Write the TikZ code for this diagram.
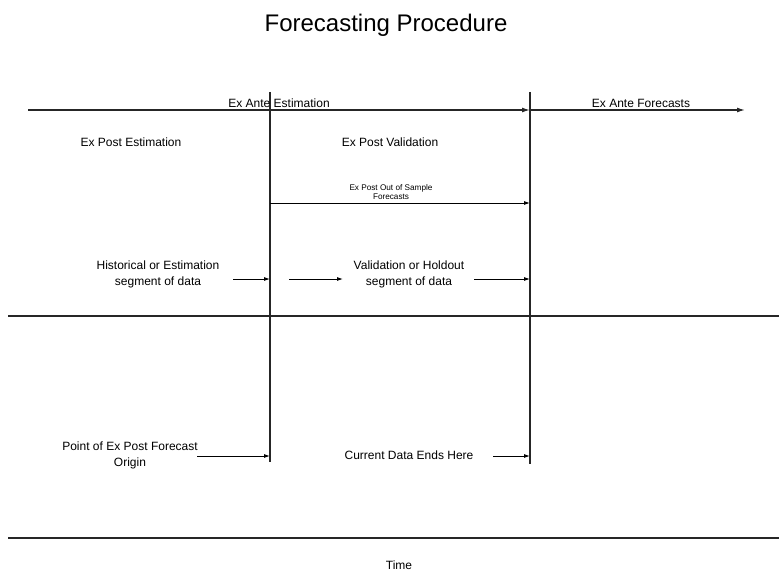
\documentclass[tikz,border=0pt]{standalone}
\usepackage{fontspec}
\setmainfont{Liberation Sans}
\usetikzlibrary{arrows.meta,positioning}

\begin{document}
\begin{tikzpicture}[x=1pt, y=-1pt,
  every node/.style={font=\fontsize{12}{16}\selectfont, align=center, inner sep=1pt},
  axis/.style={line width=1.3pt, black!85},
  tip/.style={-{Latex[length=8pt,width=5pt]}},
  smalltip/.style={-{Latex[length=6pt,width=4pt]}, line width=0.9pt}]
  \useasboundingbox (0,0) rectangle (779,572);
  \node (title) at (386,25) {\fontsize{24}{28}\selectfont Forecasting Procedure};
  % the two cuts in time
  \coordinate (v1t) at (270,92);
  \coordinate (v1b) at (270,462);
  \coordinate (v2t) at (530,92);
  \coordinate (v2b) at (530,464);
  \draw[axis] (v1t) -- (v1b);
  \draw[axis] (v2t) -- (v2b);
  % top time line
  \coordinate (start) at (28,110);
  \coordinate (finish) at (745,110);
  \draw[axis, tip] (start) -- (start -| v2t);
  \draw[axis, tip] (start -| v2t) -- (finish);
  \node (anteest) at (279,103) {Ex Ante Estimation};
  \node (antefc) at (641,103) {Ex Ante Forecasts};
  \node (postest) at (131,142) {Ex Post Estimation};
  \node (postval) at (390,142) {Ex Post Validation};
  \node[font=\fontsize{8.2}{9.5}\selectfont] (oos) at (391,192) {Ex Post Out of Sample\\Forecasts};
  \coordinate (oosline) at (390,203);
  \draw[smalltip] (oosline -| v1t) -- (oosline -| v2t);
  % segments of data
  \node (hist) at (158,274) {Historical or Estimation\\segment of data};
  \node (hold) at (409,274) {Validation or Holdout\\segment of data};
  \coordinate (segline) at (0,279);
  \draw[smalltip] (segline -| 233,0) -- (segline -| v1t);
  \draw[smalltip] (segline -| 289,0) -- (segline -| 343,0);
  \draw[smalltip] (segline -| 474,0) -- (segline -| v2t);
  % separators
  \foreach \y in {316,538} {
    \draw[axis] (8,\y) -- (779,\y);
  }
  % end points
  \node (origin) at (130,455) {Point of Ex Post Forecast\\Origin};
  \node (dataend) at (409,455) {Current Data Ends Here};
  \coordinate (endline) at (0,456);
  \draw[smalltip] (endline -| 197,0) -- (endline -| v1t);
  \draw[smalltip] (endline -| 493,0) -- (endline -| v2t);
  \node (time) at (399,565) {Time};
\end{tikzpicture}
\end{document}
